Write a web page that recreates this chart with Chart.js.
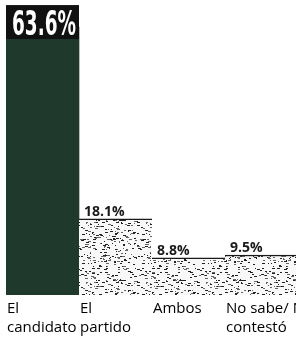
<!DOCTYPE html>
<html>
<head>
<meta charset="utf-8">
<script src="https://cdn.jsdelivr.net/npm/chart.js@4"></script>
<style>
  html, body { margin: 0; padding: 0; background: #fff; overflow: hidden; }
  #wrap { width: 298px; height: 338px; position: relative; }
</style>
</head>
<body>
<div id="wrap"><canvas id="opinionChart"></canvas></div>
<script>
const categories = [['El', 'candidato'], ['El', 'partido'], ['Ambos'], ['No sabe/ No', 'contestó']];
const values = [63.6, 18.1, 8.8, 9.5];
const valueLabels = ['63.6%', '18.1%', '8.8%', '9.5%'];

// speckled newsprint texture for the light bars
function makeSpeckle() {
  const c = document.createElement('canvas');
  c.width = 60; c.height = 60;
  const g = c.getContext('2d');
  g.fillStyle = '#f8f8f8';
  g.fillRect(0, 0, 60, 60);
  let s = 12345;
  const next = () => {
    s = (s + 0x6D2B79F5) | 0;
    let t = Math.imul(s ^ (s >>> 15), 1 | s);
    t = (t + Math.imul(t ^ (t >>> 7), 61 | t)) ^ t;
    return ((t ^ (t >>> 14)) >>> 0) / 4294967296;
  };
  for (let i = 0; i < 300; i++) {
    const x = Math.floor(next() * 60);
    const y = Math.floor(next() * 60);
    const len = 1 + Math.floor(next() * 3);
    g.fillStyle = next() < 0.6 ? '#222' : '#666';
    g.fillRect(x, y, len, 1);
  }
  return g.createPattern(c, 'repeat');
}
const speckle = makeSpeckle();

const labelPlugin = {
  id: 'labelPlugin',
  afterDatasetsDraw(chart) {
    const ctx = chart.ctx;
    const meta = chart.getDatasetMeta(0);
    const area = chart.chartArea;
    ctx.save();
    meta.data.forEach((bar, i) => {
      const left = bar.x - bar.width / 2;
      if (i === 0) {
        // black tag with the big number
        const bottom = bar.y + 12;
        const top = bottom - 34;
        ctx.fillStyle = '#111';
        ctx.fillRect(left, top, bar.width, bottom - top);
        ctx.fillStyle = '#fff';
        ctx.font = 'bold 34px "Liberation Sans Narrow", "DejaVu Sans Condensed", sans-serif';
        ctx.textBaseline = 'alphabetic';
        ctx.textAlign = 'left';
        const w = ctx.measureText(valueLabels[i]).width;
        const target = 64;
        ctx.save();
        ctx.translate(left + 6, bottom - 4);
        ctx.scale(target / w, 1);
        ctx.fillText(valueLabels[i], 0, 0);
        ctx.restore();
      } else {
        ctx.fillStyle = '#1a1a1a';
        ctx.font = 'bold 14px "Open Sans", sans-serif';
        ctx.textAlign = 'left';
        ctx.textBaseline = 'alphabetic';
        ctx.fillText(valueLabels[i], left + 5, bar.y - 3);
      }
      // category labels under the bars
      ctx.fillStyle = '#000';
      ctx.font = '15px "Open Sans", sans-serif';
      ctx.textAlign = 'left';
      categories[i].forEach((line, j) => {
        ctx.fillText(line, left + 1, area.bottom + 18 + j * 19);
      });
    });
    ctx.restore();
  }
};

const ctx = document.getElementById('opinionChart').getContext('2d');
const opinionChart = new Chart(ctx, {
  type: 'bar',
  data: {
    labels: categories,
    datasets: [{
      data: values,
      backgroundColor: ['#1f3a2c', speckle, speckle, speckle],
      borderColor: '#1a1a1a',
      borderWidth: [
        0,
        { top: 1.5, right: 0, bottom: 0, left: 0 },
        { top: 1.5, right: 0, bottom: 0, left: 0 },
        { top: 1.5, right: 0, bottom: 0, left: 0 }
      ],
      borderSkipped: false,
      barPercentage: 1,
      categoryPercentage: 1
    }]
  },
  options: {
    responsive: true,
    maintainAspectRatio: false,
    animation: false,
    layout: { padding: { left: 6, right: 0, top: 6, bottom: 43 } },
    plugins: {
      legend: { display: false },
      tooltip: { enabled: false }
    },
    scales: {
      x: { display: false },
      y: { display: false, min: 0, max: 68.6 }
    }
  },
  plugins: [labelPlugin]
});
</script>
</body>
</html>
